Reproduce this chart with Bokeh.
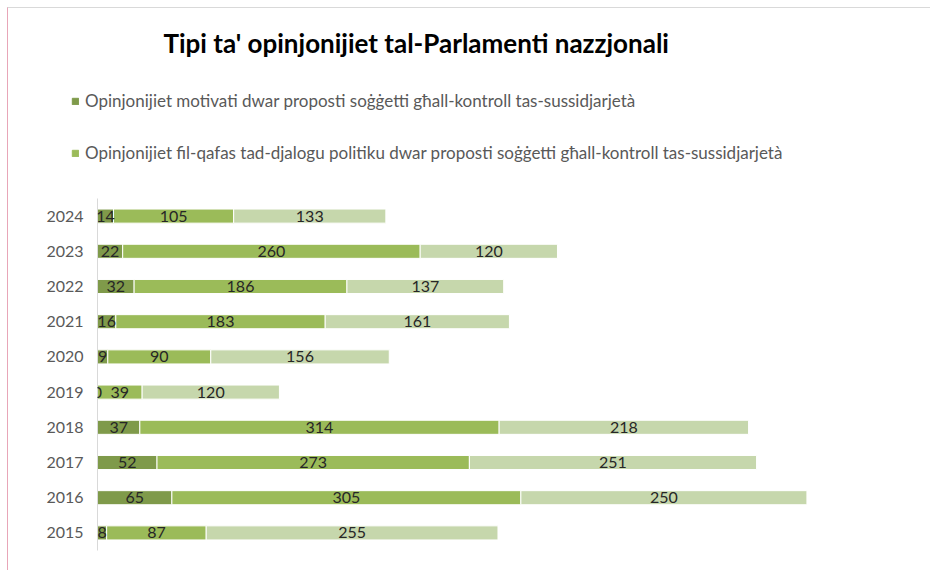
from bokeh.plotting import figure
from bokeh.layouts import column
from bokeh.models import ColumnDataSource, FactorRange, Range1d, LabelSet, Label, Legend, LegendItem
from bokeh.core.properties import value
from bokeh.embed import file_html
from bokeh.resources import INLINE

years = ["2015", "2016", "2017", "2018", "2019", "2020", "2021", "2022", "2023", "2024"]
motivati = [8, 65, 52, 37, 0, 9, 16, 32, 22, 14]
djalogu = [87, 305, 273, 314, 39, 90, 183, 186, 260, 105]
ohra = [255, 250, 251, 218, 120, 156, 161, 137, 120, 133]

series_names = [
    "Opinjonijiet motivati dwar proposti soġġetti għall-kontroll tas-sussidjarjetà",
    "Opinjonijiet fil-qafas tad-djalogu politiku dwar proposti soġġetti għall-kontroll tas-sussidjarjetà",
]
title_text = "Tipi ta' opinjonijiet tal-Parlamenti nazzjonali"
colors = ["#7f9a4a", "#9bbb59", "#c6d7ac"]
FONT = "Lato"

src = ColumnDataSource(dict(year=years, a=motivati, b=djalogu, c=ohra))

BORDER_LEFT = 89

# ---------- header: title + legend ----------
head = figure(width=922, height=190, y_range=FactorRange(*years), x_range=Range1d(0, 728),
              x_axis_type=None, y_axis_type=None, output_backend="svg", toolbar_location=None,
              min_border_left=0, min_border_right=0, min_border_top=0, min_border_bottom=0)
head.outline_line_color = None
head.xgrid.visible = False
head.ygrid.visible = False

# ---------- chart ----------
p = figure(width=922, height=372, y_range=FactorRange(*years), x_range=Range1d(0, 728),
           output_backend="svg", toolbar_location=None,
           min_border_left=BORDER_LEFT, min_border_right=0, min_border_top=0, min_border_bottom=20)

try:
    head.frame_align = False
    p.frame_align = False
    xoff = 0
except Exception:
    xoff = BORDER_LEFT

key_renderers = head.hbar_stack(["a", "b"], y="year", height=0.4, color=colors[:2],
                                source=src, visible=False)

legend = Legend(items=[LegendItem(label=series_names[0], renderers=[key_renderers[0]]),
                       LegendItem(label=series_names[1], renderers=[key_renderers[1]])],
                location=(max(63 - xoff, 0), 35), orientation="vertical", padding=0, margin=0,
                spacing=31, glyph_width=8, glyph_height=8, label_standoff=6,
                border_line_alpha=0, background_fill_alpha=0, click_policy="none",
                label_text_font=FONT, label_text_font_size="17px", label_text_color="#595959")
head.add_layout(legend, "center")

head.add_layout(Label(x=155 - xoff, y=156, x_units="screen", y_units="screen", text=title_text,
                      text_font=FONT, text_font_style="bold", text_font_size="26px",
                      text_color="#000000", text_baseline="middle"))

p.y_range.range_padding = 0
p.hbar_stack(["a", "b", "c"], y="year", height=0.4, color=colors,
             line_color="white", line_width=1, source=src)

# data labels centred in each segment
rows = list(zip(motivati, djalogu, ohra))
for i in range(3):
    lefts = [sum(r[:i]) for r in rows]
    vals = [r[i] for r in rows]
    mids = [l + v / 2 for l, v in zip(lefts, vals)]
    ls = ColumnDataSource(dict(x=mids, y=years, t=[str(v) for v in vals]))
    p.add_layout(LabelSet(x="x", y="y", text="t", source=ls, text_align="center",
                          text_baseline="middle", text_font=value(FONT), text_font_size="16px",
                          text_color="#262626"))

p.xaxis.visible = False
p.xgrid.visible = False
p.ygrid.visible = False
p.outline_line_color = None
yax = p.yaxis[0]
yax.axis_line_color = "#d9d9d9"
yax.major_tick_line_color = None
yax.minor_tick_line_color = None
yax.major_tick_out = 0
yax.major_label_standoff = 14
yax.major_label_text_font = FONT
yax.major_label_text_font_size = "16px"
yax.major_label_text_color = "#595959"

layout = column(head, p, spacing=0)
layout.styles = {"margin-left": "7px", "margin-top": "7px",
                 "border-top": "1px solid #d9d9d9", "border-left": "1px solid #e8a6b8"}

open("out.html", "w").write(file_html(layout, INLINE))
